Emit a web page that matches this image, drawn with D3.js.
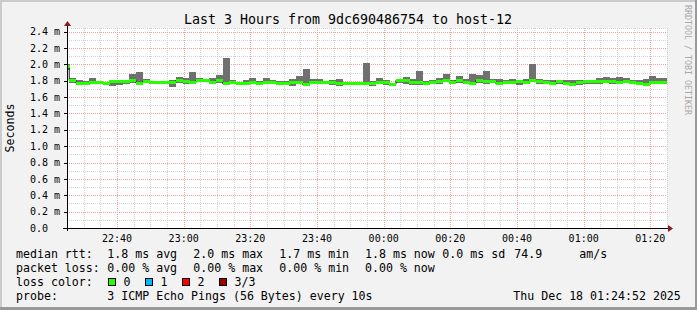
<!DOCTYPE html>
<html>
<head>
<meta charset="utf-8">
<script src="https://cdn.jsdelivr.net/npm/d3@7"></script>
<style>
	body { margin: 0; background: #f2f2f2; }
	svg text { font-family: "DejaVu Sans Mono", monospace; }
</style>
</head>
<body>
<svg id="chart" width="697" height="310"></svg>
<script>
// step data, one entry every 2 minutes (ms)
var stepStart = new Date(2025, 11, 17, 22, 23, 40);
var stepSeconds = 120;
var timeStart = new Date(2025, 11, 17, 22, 25, 0);
var timeEnd = new Date(2025, 11, 18, 1, 25, 0);

var medianRtt = [
	1.980, 1.808, 1.771, 1.771, 1.775, 1.775, 1.763, 1.788, 1.788, 1.788,
	1.808, 1.771, 1.796, 1.775, 1.775, 1.775, 1.775, 1.808, 1.796, 1.775,
	1.808, 1.804, 1.784, 1.804, 1.767, 1.775, 1.763, 1.767, 1.775, 1.767,
	1.784, 1.784, 1.771, 1.763, 1.775, 1.775, 1.755, 1.775, 1.775, 1.775,
	1.775, 1.767, 1.767, 1.771, 1.771, 1.771, 1.771, 1.775, 1.775, 1.755,
	1.804, 1.808, 1.784, 1.784, 1.767, 1.784, 1.796, 1.804, 1.779, 1.804,
	1.784, 1.767, 1.804, 1.788, 1.796, 1.763, 1.775, 1.784, 1.788, 1.784,
	1.808, 1.788, 1.775, 1.763, 1.796, 1.763, 1.755, 1.775, 1.796, 1.796,
	1.796, 1.796, 1.796, 1.775, 1.796, 1.775, 1.763, 1.755, 1.775, 1.775,
	1.775
];
var minRtt = [
	1.930, 1.775, 1.747, 1.755, 1.755, 1.755, 1.747, 1.734, 1.747, 1.755,
	1.775, 1.755, 1.771, 1.755, 1.755, 1.755, 1.722, 1.775, 1.763, 1.755,
	1.788, 1.779, 1.755, 1.775, 1.755, 1.755, 1.747, 1.747, 1.755, 1.747,
	1.763, 1.763, 1.755, 1.747, 1.734, 1.763, 1.747, 1.763, 1.763, 1.755,
	1.747, 1.734, 1.747, 1.755, 1.755, 1.747, 1.734, 1.763, 1.747, 1.734,
	1.775, 1.755, 1.747, 1.747, 1.747, 1.763, 1.763, 1.788, 1.755, 1.767,
	1.763, 1.755, 1.775, 1.763, 1.775, 1.747, 1.755, 1.763, 1.747, 1.775,
	1.796, 1.763, 1.755, 1.747, 1.763, 1.747, 1.747, 1.747, 1.763, 1.755,
	1.763, 1.775, 1.763, 1.763, 1.775, 1.755, 1.755, 1.747, 1.775, 1.763,
	1.763
];
var maxRtt = [
	2.010, 1.836, 1.804, 1.796, 1.828, 1.796, 1.788, 1.804, 1.804, 1.804,
	1.885, 1.910, 1.816, 1.796, 1.788, 1.796, 1.804, 1.845, 1.828, 1.910,
	1.828, 1.820, 1.828, 1.869, 2.073, 1.804, 1.788, 1.808, 1.828, 1.796,
	1.828, 1.804, 1.796, 1.796, 1.816, 1.857, 1.939, 1.816, 1.816, 1.796,
	1.804, 1.816, 1.788, 1.788, 1.788, 2.012, 1.796, 1.836, 1.804, 1.775,
	1.816, 1.849, 1.816, 1.918, 1.796, 1.804, 1.828, 1.877, 1.804, 1.857,
	1.816, 1.877, 1.865, 1.918, 1.816, 1.816, 1.804, 1.816, 1.796, 1.816,
	2.000, 1.816, 1.804, 1.804, 1.804, 1.804, 1.804, 1.804, 1.804, 1.804,
	1.828, 1.845, 1.828, 1.845, 1.828, 1.804, 1.804, 1.816, 1.857, 1.828,
	1.828
];

var yMajorTicks = [0, 0.2, 0.4, 0.6, 0.8, 1.0, 1.2, 1.4, 1.6, 1.8, 2.0, 2.2, 2.4];
var lossLevels = ['0', '1', '2', '3/3'];
var lossColors = ['#26ff00', '#00b8ff', '#ff0000', '#a00000'];
var rttStats = ['1.8 ms avg', '2.0 ms max', '1.7 ms min', '1.8 ms now', '0.0 ms sd', '74.9', 'am/s'];
var lossStats = ['0.00 % avg', '0.00 % max', '0.00 % min', '0.00 % now'];
var titleText = 'Last 3 Hours from 9dc690486754 to host-12';
var probeText = '3 ICMP Echo Pings (56 Bytes) every 10s';
var stampText = 'Thu Dec 18 01:24:52 2025';

var Smoke = {

	left: 67, right: 667, top: 28, bottom: 228,

	draw: function() {
		var svg = d3.select('#chart');
		var x = d3.scaleTime().domain([timeStart, timeEnd]).range([this.left, this.right]);
		var y = d3.scaleLinear().domain([0, 2.445]).range([this.bottom, this.top]);

		Smoke.frame(svg);
		Smoke.grid(svg, x, y);
		Smoke.marks(svg, x, y);
		Smoke.axes(svg, x, y);
		Smoke.texts(svg);
	},

	frame: function(svg) {
		svg.append('rect').attr('width', 697).attr('height', 310).attr('fill', '#f2f2f2');
		svg.append('rect').attr('x', 0).attr('y', 0).attr('width', 697).attr('height', 2).attr('fill', '#cbcbcb');
		svg.append('rect').attr('x', 0).attr('y', 0).attr('width', 2).attr('height', 310).attr('fill', '#cbcbcb');
		svg.append('rect').attr('x', 0).attr('y', 307).attr('width', 697).attr('height', 3).attr('fill', '#999999');
		svg.append('rect').attr('x', 695).attr('y', 0).attr('width', 2).attr('height', 310).attr('fill', '#999999');
		svg.append('rect')
			.attr('x', this.left).attr('y', this.top)
			.attr('width', this.right - this.left).attr('height', this.bottom - this.top)
			.attr('fill', '#ffffff');
	},

	grid: function(svg, x, y) {
		var self = this, g = svg.append('g').attr('shape-rendering', 'crispEdges');
		var minorX = x.ticks(d3.timeMinute.every(5)),
			majorX = x.ticks(d3.timeMinute.every(20)),
			minorY = y.ticks(25);

		var px = function(v) { return Math.round(v) + 0.5; };

		g.selectAll('line.mx').data(minorX).enter().append('line')
			.attr('x1', function(d) { return px(x(d)); })
			.attr('x2', function(d) { return px(x(d)); })
			.attr('y1', self.top).attr('y2', self.bottom)
			.style('stroke', '#d2d2d2').style('stroke-dasharray', '1,1');
		g.selectAll('line.my').data(minorY.concat([2.445])).enter().append('line')
			.attr('y1', function(d) { return px(y(d)); })
			.attr('y2', function(d) { return px(y(d)); })
			.attr('x1', self.left).attr('x2', self.right)
			.style('stroke', '#d2d2d2').style('stroke-dasharray', '1,1');
		g.selectAll('line.Mx').data(majorX).enter().append('line')
			.attr('x1', function(d) { return px(x(d)); })
			.attr('x2', function(d) { return px(x(d)); })
			.attr('y1', self.top).attr('y2', self.bottom)
			.style('stroke', '#f4a0a0').style('stroke-dasharray', '1,1');
		g.selectAll('line.My').data(yMajorTicks).enter().append('line')
			.attr('y1', function(d) { return px(y(d)); })
			.attr('y2', function(d) { return px(y(d)); })
			.attr('x1', self.left).attr('x2', self.right)
			.style('stroke', '#f4a0a0').style('stroke-dasharray', '1,1');
	},

	marks: function(svg, x, y) {
		var clip = svg.append('clipPath').attr('id', 'plot-clip')
			.append('rect')
			.attr('x', this.left).attr('y', this.top)
			.attr('width', this.right - this.left).attr('height', this.bottom - this.top);

		var steps = medianRtt.map(function(m, i) {
			var t0 = new Date(stepStart.getTime() + i * stepSeconds * 1000);
			return {
				t0: t0,
				t1: new Date(t0.getTime() + stepSeconds * 1000),
				median: m, min: minRtt[i], max: maxRtt[i]
			};
		});

		var g = svg.append('g').attr('clip-path', 'url(#plot-clip)');

		g.selectAll('rect.smoke').data(steps).enter().append('rect')
			.attr('class', 'smoke')
			.attr('shape-rendering', 'crispEdges')
			.attr('x', function(d) { return x(d.t0); })
			.attr('width', function(d) { return x(d.t1) - x(d.t0) + 0.3; })
			.attr('y', function(d) { return y(d.max); })
			.attr('height', function(d) { return y(d.min) - y(d.max); })
			.style('fill', '#707070');

		var linePts = steps.map(function(d) { return [x(d.t0), y(d.median)]; });
		linePts.push([x(steps[steps.length - 1].t1), y(steps[steps.length - 1].median)]);

		g.append('path')
			.attr('d', d3.line().curve(d3.curveStepAfter)(linePts))
			.style('fill', 'none')
			.style('stroke', '#202020')
			.style('stroke-width', 1);

		g.selectAll('rect.median').data(steps).enter().append('rect')
			.attr('class', 'median')
			.attr('shape-rendering', 'crispEdges')
			.attr('x', function(d) { return x(d.t0); })
			.attr('width', function(d) { return x(d.t1) - x(d.t0) + 0.3; })
			.attr('y', function(d) { return y(d.median) - 1.5; })
			.attr('height', 3)
			.style('fill', lossColors[0]);
	},

	axes: function(svg, x, y) {
		var self = this;
		svg.append('line')
			.attr('x1', 63).attr('x2', 669)
			.attr('y1', self.bottom + 0.5).attr('y2', self.bottom + 0.5)
			.style('stroke', '#000').attr('shape-rendering', 'crispEdges');
		svg.append('line')
			.attr('x1', self.left + 0.5).attr('x2', self.left + 0.5)
			.attr('y1', self.bottom + 3).attr('y2', 25)
			.style('stroke', '#000').attr('shape-rendering', 'crispEdges');
		svg.append('path').attr('d', 'M668,225 L673,228.5 L668,232 Z').style('fill', '#8b1a1a');
		svg.append('path').attr('d', 'M64,26 L67.5,21 L71,26 Z').style('fill', '#8b1a1a');

		svg.selectAll('line.ytick').data(yMajorTicks).enter().append('line')
			.attr('x1', self.left - 3).attr('x2', self.left)
			.attr('y1', function(d) { return Math.round(y(d)) + 0.5; })
			.attr('y2', function(d) { return Math.round(y(d)) + 0.5; })
			.style('stroke', '#000').attr('shape-rendering', 'crispEdges');

		svg.selectAll('text.ylab').data(yMajorTicks).enter().append('text')
			.attr('x', 30)
			.attr('y', function(d) { return y(d) + 3.6; })
			.style('font-size', '10px').style('fill', '#000')
			.text(function(d) { return d === 0 ? '0.0' : d.toFixed(1) + ' m'; });

		var fmt = d3.timeFormat('%H:%M');
		svg.selectAll('text.xlab').data(x.ticks(d3.timeMinute.every(20))).enter().append('text')
			.attr('x', function(d) { return x(d); })
			.attr('y', 241.5)
			.attr('text-anchor', 'middle')
			.style('font-size', '10px').style('fill', '#000')
			.text(function(d) { return fmt(d); });
	},

	texts: function(svg) {
		var lf = '11.6px';
		var put = function(x, y, s, size, anchor) {
			return svg.append('text').attr('x', x).attr('y', y)
				.attr('text-anchor', anchor || 'start')
				.style('font-size', size || lf).style('fill', '#000')
				.text(s);
		};

		put(348, 24, titleText, '13.3px', 'middle');

		svg.append('text')
			.attr('transform', 'translate(14,128) rotate(-90)')
			.attr('text-anchor', 'middle')
			.style('font-size', lf)
			.text('Seconds');

		svg.append('text')
			.attr('transform', 'translate(685,5) rotate(90)')
			.style('font-size', '8.3px').style('fill', '#a8a8a8')
			.text('RRDTOOL / TOBI OETIKER');

		var rttX = [107.3, 193.3, 279.3, 365, 442.3, 514.3, 579.3];
		put(16, 258, 'median rtt:');
		rttStats.forEach(function(s, i) { put(rttX[i], 258, s); });

		put(16, 272, 'packet loss:');
		lossStats.forEach(function(s, i) { put(rttX[i], 272, s); });

		put(16, 286, 'loss color:');
		var boxX = [108.5, 145.5, 182.5, 219.5];
		lossLevels.forEach(function(s, i) {
			svg.append('rect')
				.attr('x', boxX[i]).attr('y', 278.5)
				.attr('width', 7).attr('height', 7)
				.style('fill', lossColors[i]).style('stroke', '#000').style('stroke-width', 1);
			put(boxX[i] + 15, 286, s);
		});

		put(16, 300, 'probe:');
		put(107.3, 300, probeText);
		put(513.3, 300, stampText);
	}
};

Smoke.draw();
</script>
</body>
</html>
